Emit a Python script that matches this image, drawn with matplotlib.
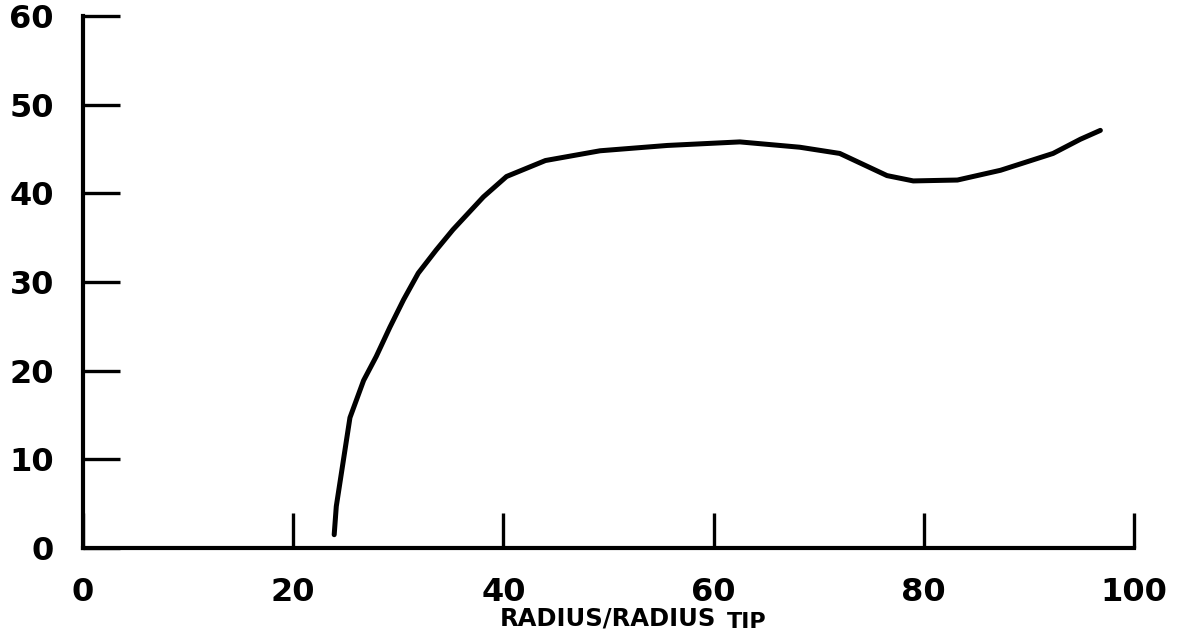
import matplotlib
matplotlib.use('Agg')
import matplotlib.pyplot as plt

# radius as percent of tip radius, and the plotted quantity
radius_pct = [23.9, 24.1, 25.4, 26.7, 27.9, 29.2, 30.5, 31.9, 33.6, 35.2, 38.1,
              40.3, 44.0, 49.2, 55.6, 62.5, 68.2, 72.0, 76.5, 79.0, 83.2, 87.3,
              92.3, 94.9, 96.8]
values = [1.5, 4.7, 14.7, 18.9, 21.6, 24.9, 28.0, 31.0, 33.6, 35.9, 39.6,
          41.9, 43.7, 44.8, 45.4, 45.8, 45.2, 44.5, 42.0, 41.4, 41.5, 42.6,
          44.5, 46.1, 47.1]

x_ticks = [0, 20, 40, 60, 80, 100]
y_ticks = [0, 10, 20, 30, 40, 50, 60]

plt.rcParams['font.family'] = ['DejaVu Sans']
plt.rcParams['font.weight'] = 'bold'

fig = plt.figure(figsize=(11.82, 6.33), dpi=100)
ax = fig.add_axes([83 / 1182, 1 - 548 / 633, (1134 - 83) / 1182, (548 - 16) / 633])

ax.plot(radius_pct, values, color='black', linewidth=3.6,
        solid_capstyle='round', solid_joinstyle='round')

ax.set_xlim(0, 100)
ax.set_ylim(0, 60)
ax.set_xticks(x_ticks)
ax.set_yticks(y_ticks)

for side in ['top', 'right']:
    ax.spines[side].set_visible(False)
for side in ['left', 'bottom']:
    ax.spines[side].set_linewidth(3.0)
    ax.spines[side].set_capstyle('projecting')

ax.tick_params(axis='x', direction='in', length=25, width=2.4, pad=21, labelsize=23)
ax.tick_params(axis='y', direction='in', length=26.5, width=2.4, pad=21, labelsize=23)
for lbl in ax.get_xticklabels() + ax.get_yticklabels():
    lbl.set_fontweight('bold')

fig.text(500 / 1182, 1 - 625 / 633, 'RADIUS/RADIUS', fontsize=17.5,
         fontweight='bold', ha='left', va='baseline')
fig.text(727 / 1182, 1 - 628 / 633, 'TIP', fontsize=16,
         fontweight='bold', ha='left', va='baseline')

fig.savefig('out.png', dpi=100, facecolor='white')
